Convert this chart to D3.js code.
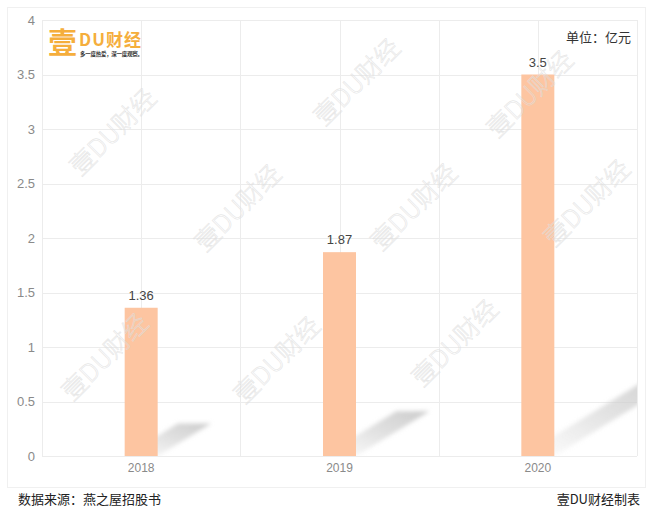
<!DOCTYPE html>
<html><head><meta charset="utf-8">
<script src="https://cdn.jsdelivr.net/npm/d3@7"></script>
<style>
html,body{margin:0;padding:0;background:#fff;}
svg{display:block;font-family:"Liberation Sans","Noto Sans CJK SC",sans-serif;}
.cjk{font-family:"Noto Sans CJK SC","Noto Sans",sans-serif;}
</style></head>
<body>
<script>
const categories = ["2018", "2019", "2020"];
const values = [1.36, 1.87, 3.5];
const valueLabels = ["1.36", "1.87", "3.5"];
const yTicks = [0, 0.5, 1, 1.5, 2, 2.5, 3, 3.5, 4];
const unitText = "单位：亿元";
const sourceText = "数据来源：燕之屋招股书";
const makerText = "壹DU财经制表";
const watermarkText = "壹DU财经";
// watermark centres in pixel space (decorative)
const watermarks = [[113,132],[238,208],[357,82],[530,94],[414,207],[587,203],[105,357],[277,360],[455,343]];

const W = 660, H = 521;
const m = {left: 42, right: 23, top: 20, bottom: 65};
const svg = d3.select("body").append("svg").attr("width", W).attr("height", H);

const defs = svg.append("defs");
const grad = defs.append("linearGradient").attr("id","shg").attr("x1","0").attr("y1","1").attr("x2","1").attr("y2","0");
grad.append("stop").attr("offset","0").attr("stop-color","#d0d0d0").attr("stop-opacity",0.0);
grad.append("stop").attr("offset","0.5").attr("stop-color","#d0d0d0").attr("stop-opacity",0.6);
grad.append("stop").attr("offset","1").attr("stop-color","#c8c8c8").attr("stop-opacity",0.95);
defs.append("filter").attr("id","blur").attr("x","-20%").attr("y","-20%").attr("width","140%").attr("height","140%")
  .append("feGaussianBlur").attr("stdDeviation",2.2);
defs.append("clipPath").attr("id","plotclip").append("rect")
  .attr("x", m.left).attr("y", m.top).attr("width", W-m.left-m.right).attr("height", H-m.top-m.bottom);

// outer frame
svg.append("rect").attr("x",7.5).attr("y",7.5).attr("width",638).attr("height",480)
  .attr("fill","none").attr("stroke","#f0f0f0");

const x = d3.scaleBand().domain(categories).range([m.left, W-m.right]).padding(0);
const y = d3.scaleLinear().domain([0,4]).range([H-m.bottom, m.top]);

// grid
const g = svg.append("g");
g.selectAll(".hg").data(yTicks).join("line")
  .attr("x1", m.left).attr("x2", W-m.right)
  .attr("y1", d=>Math.round(y(d))+0.5).attr("y2", d=>Math.round(y(d))+0.5)
  .attr("stroke","#ececec");
const vlines = [];
categories.forEach(c=>{ vlines.push(x(c)); vlines.push(x(c)+x.bandwidth()/2); });
vlines.push(x.range()[1]);
g.selectAll(".vg").data(vlines).join("line")
  .attr("x1", d=>Math.round(d)+0.5).attr("x2", d=>Math.round(d)+0.5)
  .attr("y1", m.top).attr("y2", H-m.bottom)
  .attr("stroke","#ececec");

// shadows
const bw = 33;
const shadows = svg.append("g").attr("clip-path","url(#plotclip)");
categories.forEach((c,i)=>{
  const cx = x(c) + x.bandwidth()/2;
  const x0 = cx - bw/2, x1 = cx + bw/2, y0 = y(0);
  const h = y(0) - y(values[i]);
  const dx = h*0.36, dy = h*0.22;
  shadows.append("path")
    .attr("d", `M${x0},${y0} L${x1},${y0} L${x1+dx},${y0-dy} L${x0+dx},${y0-dy} Z`)
    .attr("fill","url(#shg)").attr("filter","url(#blur)");
});

// bars
svg.append("g").selectAll("rect").data(values).join("rect")
  .attr("x",(d,i)=>x(categories[i]) + x.bandwidth()/2 - bw/2)
  .attr("width", bw)
  .attr("y", d=>y(d)).attr("height", d=>y(0)-y(d))
  .attr("fill","#fdc5a1");

// watermarks (on top of bars)
svg.append("g").selectAll("text").data(watermarks).join("text")
  .attr("class","cjk")
  .attr("transform", d=>`translate(${d[0]},${d[1]}) rotate(-45)`)
  .attr("text-anchor","middle").attr("dy","0.35em")
  .attr("font-size",25).attr("font-weight",300)
  .attr("fill","none").attr("stroke","#dedede").attr("stroke-opacity",0.8).attr("stroke-width",0.6)
  .text(watermarkText);

// value labels
svg.append("g").selectAll("text").data(values).join("text")
  .attr("x",(d,i)=>x(categories[i]) + x.bandwidth()/2)
  .attr("y", d=>y(d)-8)
  .attr("text-anchor","middle").attr("font-size",13).attr("fill","#444")
  .text((d,i)=>valueLabels[i]);

// y axis labels
svg.append("g").selectAll("text").data(yTicks).join("text")
  .attr("x", 35).attr("y", d=>y(d)).attr("dy","0.35em")
  .attr("text-anchor","end").attr("font-size",13).attr("fill","#8a8a8a")
  .text(d=>d);

// x axis labels
svg.append("g").selectAll("text").data(categories).join("text")
  .attr("x", d=>x(d)+x.bandwidth()/2).attr("y", y(0)+16)
  .attr("text-anchor","middle").attr("font-size",12).attr("fill","#8a8a8a")
  .text(d=>d);

// unit
svg.append("text").attr("class","cjk").attr("x",631).attr("y",42).attr("text-anchor","end")
  .attr("font-size",13).attr("fill","#333").text(unitText);

// logo
const logo = svg.append("g").attr("class","cjk");
logo.append("text").attr("x",48).attr("y",54).attr("font-size",29).attr("font-weight","bold").attr("fill","#f5ae3c").text("壹");
logo.append("text").attr("x",79).attr("y",46).attr("font-size",17).attr("font-weight","bold").attr("fill","#f5ae3c").attr("textLength",62).text("DU财经");
logo.append("text").attr("x",80).attr("y",56).attr("font-size",5.5).attr("font-weight","bold").attr("fill","#333").attr("textLength",63).text("多一度热爱，深一度观察。");

// footer
svg.append("text").attr("class","cjk").attr("x",18).attr("y",504).attr("font-size",13).attr("fill","#222").text(sourceText);
svg.append("text").attr("class","cjk").attr("x",640).attr("y",504).attr("text-anchor","end").attr("font-size",13).attr("fill","#222").text(makerText);
</script>
</body></html>
